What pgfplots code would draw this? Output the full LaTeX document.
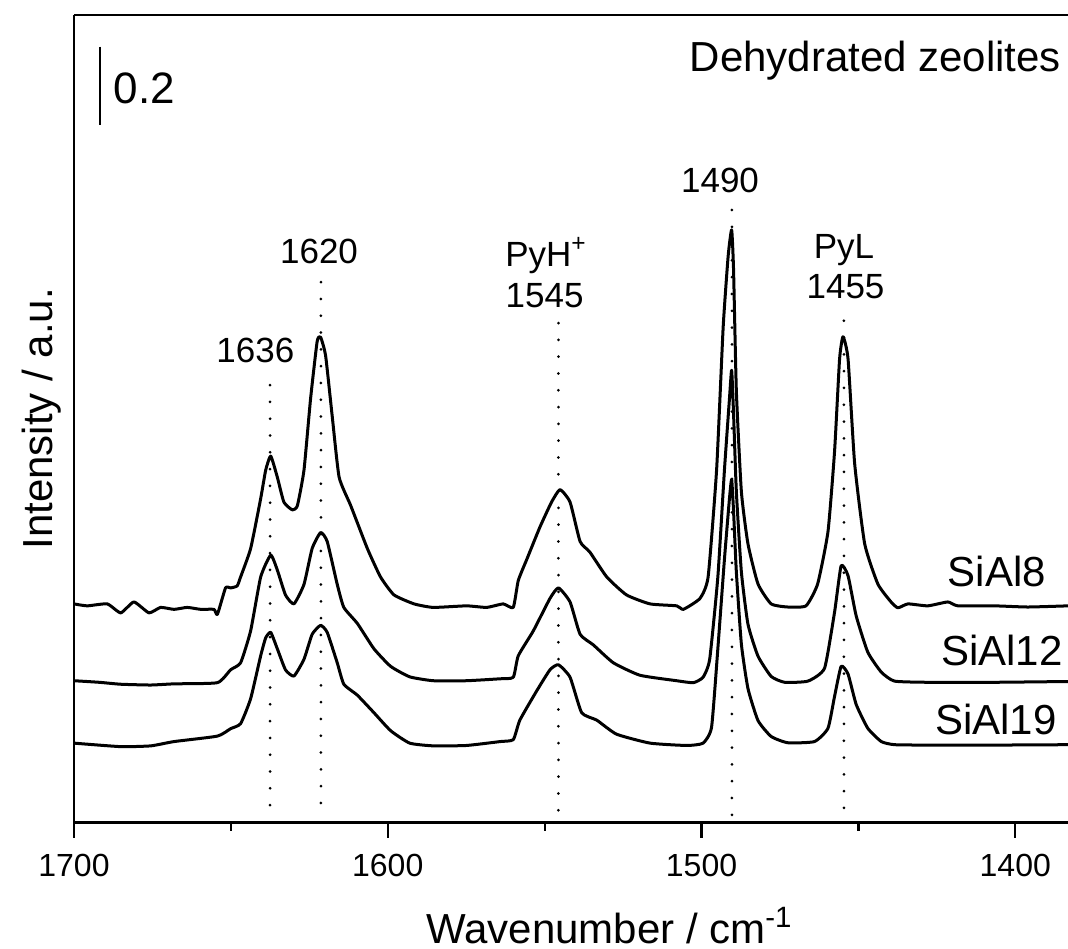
\documentclass[border=0pt]{standalone}
\usepackage{fontspec}
\setmainfont{Liberation Sans}
\usepackage{pgfplots}
\pgfplotsset{compat=1.18}
\begin{document}
\begin{tikzpicture}
\begin{axis}[
  at={(0pt,0pt)}, anchor=south west,
  scale only axis, width=248.5pt, height=201.925pt,
  x dir=reverse, xmin=1383.2, xmax=1700, ymin=0, ymax=2.071,
  axis x line*=box, axis y line*=left,
  xtick={1400,1500,1600,1700}, minor xtick={1450,1550,1650},
  xtick pos=left, ytick=\empty,
  xtick align=outside, major tick length=3.75pt, minor tick length=2pt,
  tick style={line width=0.55pt, black},
  axis line style={line width=0.7pt, black},
  /pgf/number format/assume math mode=true,
  /pgf/number format/1000 sep={},
  xticklabel style={font=\fontsize{8}{9.6}\selectfont, anchor=north, inner sep=0pt, yshift=-3.85pt},
  xlabel={Wavenumber / cm\textsuperscript{-1}},
  xlabel style={at={(axis cs:1529.2,-0.3085)}, anchor=base, font=\fontsize{10.5}{12}\selectfont},
  ylabel={Intensity / a.u.},
  ylabel style={at={(axis cs:1706.7,1.0355)}, anchor=base, font=\fontsize{10.5}{12}\selectfont},
  every axis plot/.append style={line join=round},
]
% dotted guide lines
\addplot[black, line width=0.75pt, line cap=round, dash pattern=on 0pt off 4.2pt] coordinates {(1637.5,1.122) (1637.5,0.01)};
\addplot[black, line width=0.75pt, line cap=round, dash pattern=on 0pt off 4.2pt] coordinates {(1621.3,1.386) (1621.3,0.01)};
\addplot[black, line width=0.75pt, line cap=round, dash pattern=on 0pt off 4.2pt] coordinates {(1545.6,1.281) (1545.6,0.01)};
\addplot[black, line width=0.75pt, line cap=round, dash pattern=on 0pt off 4.2pt] coordinates {(1490.3,1.571) (1490.3,0.01)};
\addplot[black, line width=0.75pt, line cap=round, dash pattern=on 0pt off 4.2pt] coordinates {(1454.6,1.287) (1454.6,0.01)};
% SiAl8
\addplot[black, line width=0.75pt, smooth, tension=0.3] coordinates {
(1700,0.561) (1695.8,0.556) (1689.4,0.561) (1685.1,0.538) (1680.9,0.566) (1676.1,0.538)
(1672.4,0.552) (1668.1,0.547) (1663.9,0.552) (1659.6,0.547) (1655.4,0.547) (1654.3,0.534)
(1651.7,0.602) (1650.1,0.602) (1648.0,0.607) (1646.9,0.630) (1643.7,0.703) (1640.5,0.831)
(1638.9,0.904) (1637.3,0.940) (1635.2,0.886) (1633.1,0.822) (1630.4,0.802) (1628.8,0.813)
(1626.7,0.904) (1624.6,1.087) (1622.5,1.234) (1621.4,1.245) (1619.8,1.197) (1617.7,1.042)
(1615.5,0.886) (1611.8,0.813) (1606.5,0.703) (1602.3,0.630) (1598.0,0.584) (1591.6,0.561)
(1585.5,0.552) (1574.9,0.556) (1568.5,0.552) (1563.2,0.561) (1560.0,0.552) (1558.4,0.621)
(1555.7,0.675) (1551.5,0.758) (1547.8,0.822) (1545.1,0.854) (1541.9,0.822) (1538.7,0.721)
(1535.6,0.694) (1530.2,0.630) (1523.9,0.584) (1516.4,0.561) (1507.9,0.556) (1505.8,0.547)
(1500.5,0.575) (1497.9,0.630) (1495.2,0.904) (1493.1,1.271) (1491.5,1.454) (1490.4,1.520)
(1489.8,1.420) (1488.9,1.107) (1487.3,0.849) (1485.2,0.715) (1482.0,0.612) (1477.8,0.561)
(1472.5,0.553) (1466.7,0.556) (1463.0,0.612) (1459.7,0.746) (1457.6,0.952) (1456.0,1.189)
(1454.9,1.246) (1453.3,1.189) (1451.2,0.921) (1448.0,0.715) (1443.8,0.612) (1439.6,0.566)
(1437.4,0.551) (1434.2,0.561) (1427.9,0.556) (1421.5,0.566) (1418.3,0.556) (1406.6,0.556)
(1396.0,0.553) (1383.2,0.556)
};
% SiAl12
\addplot[black, line width=0.75pt, smooth, tension=0.3] coordinates {
(1700,0.364) (1692,0.360) (1685.1,0.355) (1675.5,0.353) (1668.1,0.356) (1654.3,0.359)
(1650.1,0.392) (1646.9,0.410) (1643.7,0.492) (1640.5,0.630) (1637.3,0.686) (1635.2,0.648)
(1632.6,0.584) (1629.9,0.561) (1626.7,0.611) (1624.1,0.703) (1621.4,0.744) (1619.3,0.721)
(1616.1,0.611) (1614.0,0.552) (1609.7,0.511) (1604.4,0.446) (1599.1,0.401) (1593.0,0.374)
(1585.5,0.364) (1574.9,0.364) (1564.2,0.369) (1560.0,0.373) (1558.4,0.428) (1553.6,0.492)
(1548.3,0.575) (1545.6,0.602) (1541.9,0.566) (1538.7,0.483) (1534.5,0.456) (1528.1,0.410)
(1519.6,0.378) (1507.9,0.364) (1502.6,0.359) (1499.5,0.373) (1497.4,0.419) (1494.8,0.630)
(1492.7,0.904) (1491.1,1.087) (1490.4,1.160) (1489.8,1.050) (1488.9,0.849) (1487.3,0.643)
(1485.2,0.509) (1482.0,0.427) (1477.8,0.375) (1473.5,0.360) (1466.1,0.363) (1460.8,0.396)
(1457.6,0.540) (1455.5,0.659) (1453.3,0.633) (1450.7,0.530) (1447.0,0.437) (1442.7,0.386)
(1438.5,0.363) (1427.9,0.360) (1406.6,0.360) (1383.2,0.362)
};
% SiAl19
\addplot[black, line width=0.75pt, smooth, tension=0.3] coordinates {
(1700,0.204) (1685.1,0.195) (1675.5,0.197) (1668.1,0.208) (1654.3,0.222) (1650.1,0.241)
(1646.9,0.254) (1643.7,0.318) (1640.5,0.428) (1638.9,0.474) (1637.3,0.488) (1635.2,0.446)
(1632.6,0.392) (1629.9,0.376) (1626.7,0.419) (1624.1,0.483) (1621.4,0.506) (1619.3,0.488)
(1616.1,0.410) (1614.0,0.355) (1609.7,0.327) (1604.4,0.282) (1599.1,0.236) (1593.0,0.204)
(1585.5,0.197) (1574.9,0.198) (1564.2,0.208) (1560.0,0.213) (1557.9,0.263) (1552.6,0.337)
(1548.3,0.392) (1545.6,0.405) (1541.9,0.373) (1538.2,0.282) (1533.4,0.263) (1527.1,0.227)
(1516.4,0.204) (1504.7,0.198) (1499.5,0.204) (1496.8,0.245) (1494.8,0.446) (1492.7,0.675)
(1491.1,0.831) (1490.4,0.880) (1489.8,0.800) (1488.9,0.643) (1487.3,0.458) (1485.2,0.344)
(1482.0,0.262) (1477.8,0.221) (1472.5,0.205) (1464.0,0.208) (1459.7,0.242) (1457.6,0.324)
(1455.5,0.401) (1453.3,0.381) (1450.7,0.303) (1447.0,0.242) (1442.7,0.208) (1438.5,0.200)
(1427.9,0.199) (1406.6,0.199) (1383.2,0.200)
};
% annotations
\draw[black, line width=0.6pt] (axis cs:1691.7,1.990) -- (axis cs:1691.7,1.789);
\node[anchor=base west, inner sep=0pt, font=\fontsize{11}{13}\selectfont] at (axis cs:1687.6,1.845) {0.2};
\node[anchor=base east, inner sep=0pt, font=\fontsize{10.5}{12}\selectfont] at (axis cs:1385.2,1.925) {Dehydrated zeolites};
\node[anchor=base, inner sep=0pt, font=\fontsize{8.75}{10}\selectfont] at (axis cs:1642.2,1.179) {1636};
\node[anchor=base, inner sep=0pt, font=\fontsize{8.75}{10}\selectfont] at (axis cs:1621.9,1.435) {1620};
\node[anchor=base, inner sep=0pt, font=\fontsize{8.75}{10}\selectfont] at (axis cs:1549.4,1.425) {PyH\textsuperscript{+}};
\node[anchor=base, inner sep=0pt, font=\fontsize{8.75}{10}\selectfont] at (axis cs:1550.0,1.322) {1545};
\node[anchor=base, inner sep=0pt, font=\fontsize{8.75}{10}\selectfont] at (axis cs:1494.1,1.615) {1490};
\node[anchor=base, inner sep=0pt, font=\fontsize{8.75}{10}\selectfont] at (axis cs:1454.6,1.447) {PyL};
\node[anchor=base, inner sep=0pt, font=\fontsize{8.75}{10}\selectfont] at (axis cs:1454.1,1.344) {1455};
\node[anchor=base, inner sep=0pt, font=\fontsize{10.5}{12}\selectfont] at (axis cs:1405.9,0.605) {SiAl8};
\node[anchor=base, inner sep=0pt, font=\fontsize{10.5}{12}\selectfont] at (axis cs:1404.3,0.402) {SiAl12};
\node[anchor=base, inner sep=0pt, font=\fontsize{10.5}{12}\selectfont] at (axis cs:1406.2,0.225) {SiAl19};
\end{axis}
\pgfresetboundingbox
\path[use as bounding box] (-18.5pt,-31.575pt) rectangle (248.5pt,205.675pt);
\end{tikzpicture}
\end{document}
